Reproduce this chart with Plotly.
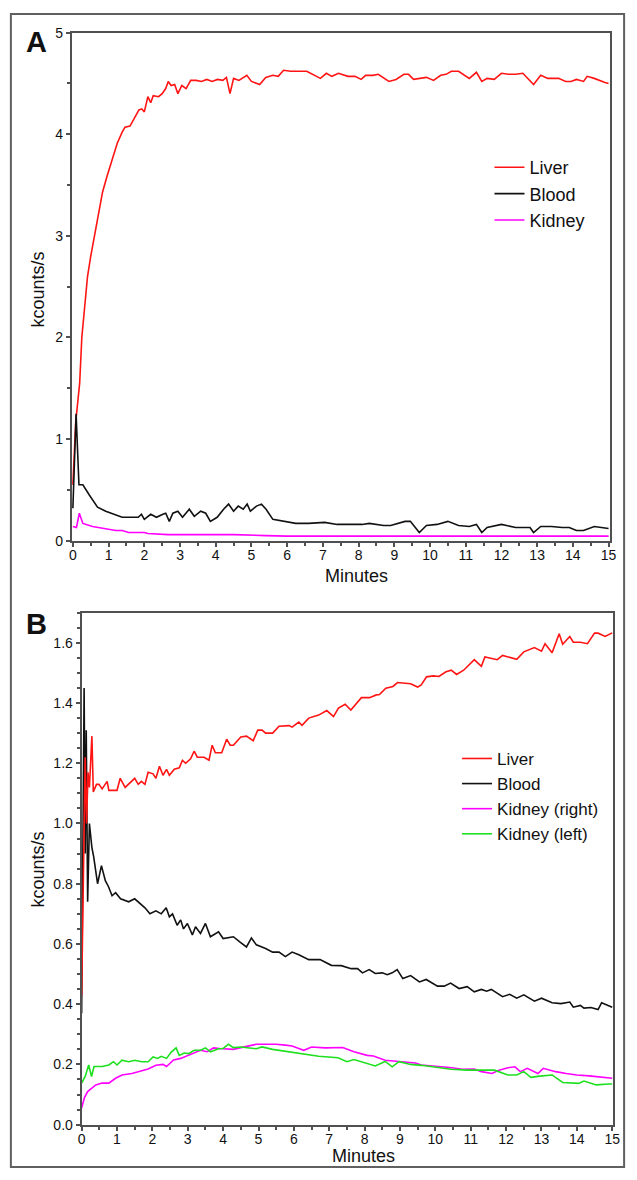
import plotly.graph_objects as go

# ---------------- Panel A data ----------------
a_liver_t = [0, 0.08, 0.19, 0.25, 0.33, 0.41, 0.5, 0.6, 0.72, 0.83, 0.95, 1.1, 1.24, 1.38, 1.46, 1.6, 1.73, 1.85, 1.93, 2.0,
             2.1, 2.18, 2.25, 2.4, 2.5, 2.6, 2.67, 2.75, 2.85, 2.94, 3.05, 3.17, 3.3, 3.45, 3.6, 3.75, 3.9, 4.05, 4.2, 4.3,
             4.4, 4.5, 4.65, 4.8, 4.87, 5.0, 5.23, 5.4, 5.6, 5.75, 5.9, 6.1, 6.55, 6.93, 7.1, 7.25, 7.44, 7.7, 7.9, 8.07,
             8.2, 8.4, 8.55, 8.85, 9.05, 9.27, 9.4, 9.54, 9.9, 10.1, 10.3, 10.45, 10.6, 10.8, 11.1, 11.3, 11.45, 11.6, 11.8, 12.0,
             12.2, 12.4, 12.6, 12.9, 13.1, 13.3, 13.6, 13.8, 13.95, 14.1, 14.3, 14.4, 14.6, 14.9, 15.0]
a_liver_v = [0.55, 1.17, 1.55, 2.0, 2.3, 2.6, 2.8, 3.0, 3.22, 3.43, 3.58, 3.76, 3.91, 4.02, 4.07, 4.08, 4.17, 4.24, 4.25, 4.22,
             4.37, 4.31, 4.38, 4.37, 4.40, 4.45, 4.52, 4.48, 4.49, 4.40, 4.48, 4.45, 4.53, 4.53, 4.52, 4.54, 4.52, 4.54, 4.53, 4.56,
             4.40, 4.55, 4.53, 4.56, 4.58, 4.52, 4.49, 4.56, 4.58, 4.57, 4.63, 4.62, 4.62, 4.55, 4.60, 4.57, 4.60, 4.57, 4.57, 4.54,
             4.58, 4.58, 4.59, 4.52, 4.54, 4.59, 4.59, 4.54, 4.56, 4.53, 4.58, 4.59, 4.62, 4.62, 4.55, 4.61, 4.52, 4.55, 4.54, 4.60,
             4.59, 4.59, 4.60, 4.49, 4.58, 4.55, 4.55, 4.52, 4.52, 4.54, 4.52, 4.57, 4.55, 4.51, 4.50]

a_blood_t = [0, 0.09, 0.17, 0.28, 0.46, 0.69, 0.92, 1.15, 1.38, 1.56, 1.83, 1.92, 2.0, 2.18, 2.34, 2.52, 2.6, 2.7, 2.8, 2.94,
             3.07, 3.26, 3.4, 3.58, 3.72, 3.85, 4.04, 4.22, 4.36, 4.5, 4.63, 4.77, 4.88, 4.97, 5.14, 5.28, 5.41, 5.6, 5.87, 6.24,
             6.6, 7.05, 7.4, 8.1, 8.3, 8.7, 8.9, 9.3, 9.45, 9.7, 9.9, 10.2, 10.5, 10.8, 11.1, 11.3, 11.45, 11.6, 12.0, 12.4,
             12.8, 12.9, 13.1, 13.4, 13.7, 13.9, 14.1, 14.3, 14.6, 14.9, 15.0]
a_blood_v = [0.32, 1.25, 0.55, 0.55, 0.45, 0.33, 0.29, 0.26, 0.23, 0.23, 0.23, 0.26, 0.21, 0.26, 0.23, 0.26, 0.27, 0.19, 0.27, 0.29,
             0.23, 0.31, 0.24, 0.29, 0.27, 0.19, 0.23, 0.31, 0.36, 0.29, 0.34, 0.31, 0.36, 0.29, 0.34, 0.36, 0.31, 0.21, 0.19, 0.17,
             0.17, 0.18, 0.16, 0.16, 0.17, 0.15, 0.15, 0.19, 0.19, 0.08, 0.15, 0.16, 0.19, 0.15, 0.14, 0.16, 0.08, 0.13, 0.16, 0.13,
             0.13, 0.08, 0.14, 0.14, 0.13, 0.13, 0.10, 0.10, 0.14, 0.12, 0.12]

a_kidney_t = [0, 0.1, 0.18, 0.28, 0.55, 0.83, 1.2, 1.38, 1.56, 2.0, 2.1, 2.66, 4.5, 5.4, 6.0, 7.0, 9.0, 11.0, 13.0, 15.0]
a_kidney_v = [0.14, 0.13, 0.27, 0.17, 0.14, 0.12, 0.10, 0.10, 0.08, 0.08, 0.07, 0.06, 0.06, 0.05, 0.045, 0.045, 0.045, 0.045, 0.045, 0.045]

# ---------------- Panel B data ----------------
b_liver_t = [0, 0.04, 0.07, 0.1, 0.14, 0.18, 0.22, 0.29, 0.33, 0.42, 0.49, 0.58, 0.72, 0.77, 1.0, 1.09, 1.23, 1.5, 1.6, 1.69,
             1.79, 1.88, 2.02, 2.1, 2.2, 2.3, 2.4, 2.48, 2.62, 2.76, 2.85, 2.94, 3.08, 3.18, 3.27, 3.46, 3.6, 3.69, 3.78, 3.96,
             4.1, 4.2, 4.29, 4.5, 4.66, 4.85, 4.98, 5.1, 5.2, 5.4, 5.58, 5.86, 5.95, 6.14, 6.23, 6.42, 6.7, 6.93, 7.12, 7.26,
             7.45, 7.61, 7.91, 8.14, 8.33, 8.42, 8.6, 8.8, 8.93, 9.17, 9.3, 9.5, 9.6, 9.75, 9.94, 10.1, 10.3, 10.45, 10.6, 10.8,
             11.1, 11.3, 11.4, 11.75, 11.9, 12.3, 12.5, 12.8, 13.0, 13.1, 13.3, 13.5, 13.6, 13.8, 13.9, 14.1, 14.3, 14.5, 14.6, 14.8, 15.0]
b_liver_v = [0.43, 0.75, 1.05, 1.22, 1.0, 1.17, 1.12, 1.29, 1.105, 1.13, 1.13, 1.115, 1.14, 1.11, 1.11, 1.15, 1.12, 1.15, 1.13, 1.14,
             1.13, 1.17, 1.165, 1.15, 1.19, 1.16, 1.18, 1.16, 1.18, 1.185, 1.21, 1.20, 1.215, 1.24, 1.22, 1.22, 1.21, 1.26, 1.235, 1.235,
             1.28, 1.26, 1.26, 1.287, 1.29, 1.275, 1.31, 1.31, 1.30, 1.30, 1.323, 1.325, 1.32, 1.337, 1.326, 1.35, 1.36, 1.375, 1.355, 1.383,
             1.396, 1.377, 1.418, 1.418, 1.427, 1.428, 1.449, 1.455, 1.468, 1.464, 1.464, 1.453, 1.46, 1.487, 1.49, 1.488, 1.504, 1.509, 1.495, 1.509,
             1.544, 1.522, 1.553, 1.544, 1.558, 1.545, 1.57, 1.584, 1.572, 1.597, 1.567, 1.63, 1.595, 1.621, 1.602, 1.602, 1.597, 1.632, 1.632, 1.621, 1.633]

b_blood_t = [0, 0.04, 0.07, 0.1, 0.13, 0.17, 0.22, 0.29, 0.34, 0.45, 0.56, 0.67, 0.76, 0.86, 0.96, 1.1, 1.33, 1.5, 1.7, 1.79,
             1.93, 2.1, 2.25, 2.39, 2.48, 2.57, 2.7, 2.8, 2.88, 2.99, 3.13, 3.22, 3.36, 3.5, 3.64, 3.87, 4.0, 4.29, 4.47, 4.66,
             4.8, 4.94, 5.2, 5.4, 5.58, 5.76, 5.95, 6.14, 6.42, 6.74, 7.06, 7.34, 7.62, 7.8, 7.94, 8.13, 8.3, 8.5, 8.64, 8.78,
             8.92, 9.08, 9.3, 9.55, 9.74, 10.06, 10.25, 10.43, 10.67, 10.9, 11.1, 11.3, 11.45, 11.58, 11.9, 12.1, 12.3, 12.5, 12.8, 13.0,
             13.3, 13.55, 13.8, 13.9, 14.1, 14.2, 14.4, 14.6, 14.7, 15.0]
b_blood_v = [0.37, 1.18, 1.45, 0.9, 1.31, 0.74, 1.0, 0.92, 0.89, 0.80, 0.86, 0.81, 0.79, 0.76, 0.77, 0.75, 0.74, 0.75, 0.73, 0.72,
             0.70, 0.71, 0.70, 0.72, 0.69, 0.70, 0.662, 0.68, 0.65, 0.668, 0.63, 0.657, 0.635, 0.668, 0.624, 0.64, 0.618, 0.624, 0.607, 0.59,
             0.62, 0.597, 0.585, 0.573, 0.573, 0.558, 0.573, 0.564, 0.548, 0.548, 0.529, 0.528, 0.518, 0.518, 0.504, 0.515, 0.502, 0.504, 0.498, 0.504,
             0.515, 0.485, 0.495, 0.474, 0.482, 0.46, 0.46, 0.47, 0.452, 0.458, 0.441, 0.449, 0.443, 0.449, 0.425, 0.433, 0.42, 0.431, 0.41, 0.42,
             0.405, 0.402, 0.407, 0.39, 0.396, 0.387, 0.389, 0.382, 0.405, 0.39]

b_kright_t = [0, 0.08, 0.17, 0.4, 0.58, 0.77, 0.96, 1.14, 1.42, 1.6, 1.88, 2.1, 2.3, 2.4, 2.6, 2.8, 3.0, 3.18, 3.36, 3.55,
              3.73, 3.9, 4.29, 4.47, 4.7, 4.94, 5.2, 5.5, 5.76, 5.95, 6.14, 6.28, 6.5, 6.88, 7.38, 7.7, 8.07, 8.25, 8.58, 8.9,
              9.3, 9.44, 9.6, 10.0, 10.4, 10.77, 11.1, 11.3, 11.6, 11.8, 12.05, 12.25, 12.4, 12.6, 12.8, 12.9, 13.05, 13.4, 13.7, 14.0,
              14.35, 15.0]
b_kright_v = [0.055, 0.09, 0.11, 0.132, 0.138, 0.138, 0.154, 0.165, 0.17, 0.176, 0.185, 0.197, 0.20, 0.193, 0.215, 0.22, 0.23, 0.238, 0.247, 0.242,
              0.255, 0.253, 0.25, 0.255, 0.26, 0.267, 0.267, 0.267, 0.264, 0.261, 0.253, 0.247, 0.258, 0.255, 0.256, 0.242, 0.23, 0.228, 0.214, 0.21,
              0.206, 0.205, 0.198, 0.195, 0.19, 0.184, 0.185, 0.176, 0.17, 0.181, 0.189, 0.192, 0.176, 0.187, 0.176, 0.17, 0.187, 0.176, 0.17, 0.165,
              0.162, 0.154]

b_kleft_t = [0, 0.1, 0.2, 0.28, 0.35, 0.58, 0.77, 0.9, 1.0, 1.14, 1.33, 1.5, 1.7, 1.88, 2.02, 2.15, 2.25, 2.4, 2.53, 2.67,
             2.76, 2.9, 3.03, 3.18, 3.36, 3.5, 3.64, 3.87, 4.0, 4.15, 4.29, 4.5, 4.94, 5.1, 5.4, 5.76, 6.14, 6.7, 7.25, 7.5,
             7.7, 8.0, 8.3, 8.58, 8.78, 8.97, 9.3, 9.6, 10.0, 10.45, 10.9, 11.3, 11.67, 12.05, 12.3, 12.5, 12.7, 12.95, 13.3, 13.6,
             14.05, 14.2, 14.55, 14.9, 15.0]
b_kleft_v = [0.138, 0.16, 0.198, 0.16, 0.193, 0.193, 0.198, 0.209, 0.198, 0.214, 0.209, 0.214, 0.209, 0.209, 0.225, 0.22, 0.227, 0.22, 0.24, 0.255,
             0.23, 0.238, 0.236, 0.247, 0.247, 0.255, 0.242, 0.252, 0.253, 0.267, 0.256, 0.258, 0.252, 0.258, 0.25, 0.243, 0.238, 0.227, 0.222, 0.209,
             0.216, 0.205, 0.195, 0.21, 0.192, 0.209, 0.2, 0.197, 0.192, 0.184, 0.181, 0.181, 0.181, 0.165, 0.165, 0.176, 0.157, 0.161, 0.165, 0.14,
             0.137, 0.145, 0.132, 0.135, 0.135]

a_x_ticks = list(range(0, 16))
a_y_ticks = [0, 1, 2, 3, 4, 5]
b_y_ticks = [0.0, 0.2, 0.4, 0.6, 0.8, 1.0, 1.2, 1.4, 1.6]

W, H = 637, 1180
RED, BLACK, MAG, GREEN = "#ff1414", "#111111", "#ff00ff", "#1ee01e"
FONT = "Liberation Sans, Arial, sans-serif"

def px(x):
    return x / W

def py(y):
    return 1 - y / H

fig = go.Figure()
lw = 1.6
fig.add_trace(go.Scatter(x=a_liver_t, y=a_liver_v, mode="lines", name="Liver", line=dict(color=RED, width=lw),
                         xaxis="x", yaxis="y", legend="legend"))
fig.add_trace(go.Scatter(x=a_blood_t, y=a_blood_v, mode="lines", name="Blood", line=dict(color=BLACK, width=lw),
                         xaxis="x", yaxis="y", legend="legend"))
fig.add_trace(go.Scatter(x=a_kidney_t, y=a_kidney_v, mode="lines", name="Kidney", line=dict(color=MAG, width=lw),
                         xaxis="x", yaxis="y", legend="legend"))

fig.add_trace(go.Scatter(x=b_blood_t, y=b_blood_v, mode="lines", name="Blood", line=dict(color=BLACK, width=lw),
                         xaxis="x2", yaxis="y2", legend="legend2", legendrank=2))
fig.add_trace(go.Scatter(x=b_liver_t, y=b_liver_v, mode="lines", name="Liver", line=dict(color=RED, width=lw),
                         xaxis="x2", yaxis="y2", legend="legend2", legendrank=1))
fig.add_trace(go.Scatter(x=b_kright_t, y=b_kright_v, mode="lines", name="Kidney (right)", line=dict(color=MAG, width=lw),
                         xaxis="x2", yaxis="y2", legend="legend2", legendrank=3))
fig.add_trace(go.Scatter(x=b_kleft_t, y=b_kleft_v, mode="lines", name="Kidney (left)", line=dict(color=GREEN, width=lw),
                         xaxis="x2", yaxis="y2", legend="legend2", legendrank=4))

axis_common = dict(showline=True, mirror=True, linecolor="#505050", linewidth=2, showgrid=False, zeroline=False,
                   ticks="outside", ticklen=4, tickwidth=1.5, tickcolor="#505050",
                   tickfont=dict(family=FONT, size=14, color="#111"))
minor_style = dict(ticks="outside", ticklen=3, tickcolor="#505050")

fig.update_layout(
    width=W, height=H, margin=dict(l=0, r=0, t=0, b=0),
    paper_bgcolor="white", plot_bgcolor="white",
    font=dict(family=FONT, color="#111"),
    xaxis=dict(domain=[px(69), px(617)], range=[-0.03, 15.05], anchor="y",
               tickvals=a_x_ticks, minor=dict(dtick=0.5, **minor_style), ticklabelstandoff=-3,
               **axis_common),
    yaxis=dict(domain=[py(540), py(25)], range=[0, 5], anchor="x",
               tickvals=a_y_ticks, minor=dict(dtick=0.5, **minor_style),
               **axis_common),
    xaxis2=dict(domain=[px(79), px(620)], range=[0, 15.03], anchor="y2",
                tickvals=a_x_ticks, minor=dict(dtick=0.5, **minor_style), ticklabelstandoff=-3,
                **axis_common),
    yaxis2=dict(domain=[py(1132), py(613)], range=[0, 1.70], anchor="x2",
                tickvals=b_y_ticks, tickformat=".1f",
                minor=dict(dtick=0.05, **minor_style),
                **axis_common),
    legend=dict(x=px(494), y=py(143), xanchor="left", yanchor="top", bgcolor="rgba(0,0,0,0)",
                font=dict(family=FONT, size=18, color="#111"), itemwidth=30),
    legend2=dict(x=px(461), y=py(743), xanchor="left", yanchor="top", bgcolor="rgba(0,0,0,0)",
                 font=dict(family=FONT, size=17, color="#111"), itemwidth=30),
    showlegend=True,
)

# outer frame
fig.add_shape(type="rect", xref="paper", yref="paper", x0=px(7), x1=px(631), y0=py(1175), y1=py(6),
              line=dict(color="#606060", width=2), fillcolor="rgba(0,0,0,0)", layer="below")

ann = [
    dict(text="<b>A</b>", x=px(33), y=py(34), size=29, angle=0),
    dict(text="<b>B</b>", x=px(33), y=py(624), size=29, angle=0),
    dict(text="Minutes", x=px(359), y=py(576), size=18, angle=0),
    dict(text="Minutes", x=px(366), y=py(1164), size=18, angle=0),
    dict(text="kcounts/s", x=px(35), y=py(285), size=18, angle=-90),
    dict(text="kcounts/s", x=px(35), y=py(873), size=18, angle=-90),
]
for a in ann:
    fig.add_annotation(text=a["text"], x=a["x"], y=a["y"], xref="paper", yref="paper", showarrow=False,
                       xanchor="center", yanchor="middle", textangle=a["angle"],
                       font=dict(family=FONT, size=a["size"], color="#111"))

fig.write_html("out.html", config={"displayModeBar": False},
               post_script="document.body.style.margin='0';document.body.style.padding='0';document.body.style.overflow='hidden';")
